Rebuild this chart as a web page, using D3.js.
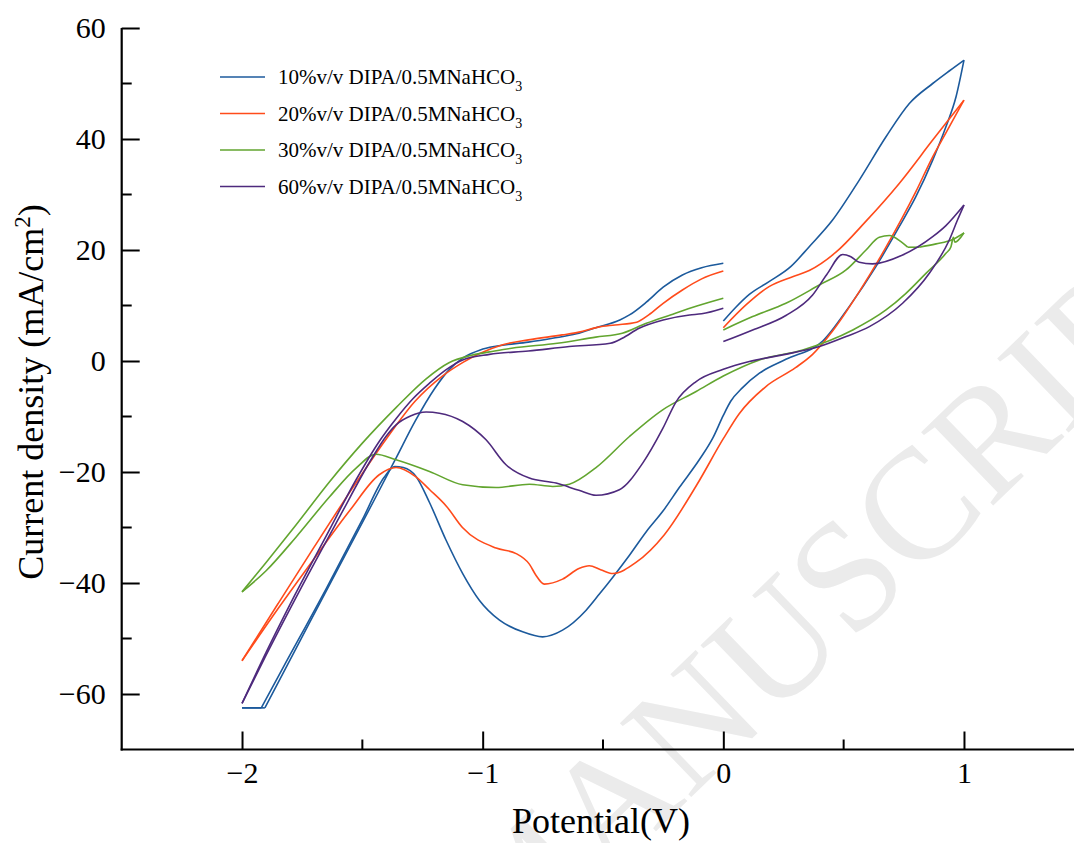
<!DOCTYPE html>
<html>
<head>
<meta charset="utf-8">
<script src="https://cdn.jsdelivr.net/npm/d3@7"></script>
<style>
  body { margin: 0; background: #fff; }
  text { font-family: "Liberation Serif", "Times New Roman", serif; }
</style>
</head>
<body>
<div id="chart"></div>
<script>
// CV scans, [potential V, current density mA/cm2], in scan order:
// start at 0 V, up to 1 V, back down to -2 V, then up to 0 V again
var dipa10 = [
  [0, 7.2], [0.05, 9.6], [0.108, 12.0], [0.19, 14.3], [0.28, 17.0], [0.357, 20.6], [0.454, 25.4],
  [0.565, 32.6], [0.676, 40.4], [0.773, 46.4], [0.87, 50.0], [0.94, 52.3], [1.0, 54.2],
  [0.967, 47.6], [0.925, 42.2], [0.87, 36.2], [0.8, 29.6], [0.731, 24.2], [0.634, 17.0], [0.523, 9.8],
  [0.413, 3.6], [0.26, 0.3], [0.15, -2.2], [0.08, -4.8], [0.03, -7.3], [0, -9.8], [-0.044, -13.9],
  [-0.1, -17.8], [-0.183, -22.8], [-0.25, -27], [-0.321, -30.8], [-0.39, -35], [-0.46, -39],
  [-0.515, -42], [-0.57, -44.9], [-0.668, -48.5], [-0.751, -49.7], [-0.834, -48.8], [-0.93, -46.7],
  [-1.014, -43.1], [-1.083, -38.3], [-1.152, -32.3], [-1.221, -25.5], [-1.277, -20.8], [-1.33, -19.2],
  [-1.365, -19.0], [-1.41, -21.0], [-1.5, -28.6], [-1.65, -41.0], [-1.83, -55.3], [-1.92, -62.5],
  [-2.0, -62.5],
  [-1.905, -62.5], [-1.79, -53.0], [-1.6, -37.3], [-1.45, -25.0], [-1.36, -17.5], [-1.28, -10.8],
  [-1.2, -5.0], [-1.14, -1.6], [-1.08, 0.6], [-1.01, 2.0], [-0.94, 2.7], [-0.81, 3.4], [-0.71, 4.1],
  [-0.61, 4.9], [-0.53, 6.0], [-0.43, 7.4], [-0.39, 8.3], [-0.32, 10.6], [-0.25, 13.3],
  [-0.17, 15.5], [-0.09, 16.8], [0, 17.6]
];

var dipa20 = [
  [0, 6.0], [0.094, 10.1], [0.19, 13.4], [0.288, 15.2], [0.357, 16.3], [0.468, 19.6], [0.593, 25.2],
  [0.731, 32.0], [0.87, 39.8], [1.0, 47.0],
  [0.925, 41.1], [0.87, 36.8], [0.8, 30.5], [0.676, 20.5], [0.565, 12.5], [0.454, 5.4], [0.371, 1.2],
  [0.3, -1.2], [0.177, -4.6], [0.066, -9.5], [0, -14.0], [-0.11, -22.3], [-0.245, -31.3],
  [-0.363, -36.3], [-0.46, -38.3], [-0.51, -37.6], [-0.557, -36.9], [-0.6, -37.4], [-0.668, -39.3],
  [-0.744, -40.2], [-0.78, -38.5], [-0.806, -36.6], [-0.861, -34.7], [-0.944, -33.7], [-1.084, -30.0],
  [-1.15, -26.2], [-1.22, -23.2], [-1.28, -20.8], [-1.36, -19.2], [-1.43, -20.5], [-1.55, -26.8],
  [-1.7, -35.6], [-1.85, -44.6], [-2.0, -54.0],
  [-1.85, -43.7], [-1.7, -33.5], [-1.55, -23.5], [-1.4, -14.0], [-1.28, -7.2], [-1.17, -2.8],
  [-1.08, -0.2], [-1.01, 1.4], [-0.92, 2.9], [-0.81, 3.8], [-0.67, 4.7], [-0.6, 5.2], [-0.52, 6.1],
  [-0.45, 6.5], [-0.36, 7.0], [-0.31, 8.3], [-0.25, 10.4], [-0.17, 12.8], [-0.09, 14.8], [0, 16.2]
];

var dipa30 = [
  [0, 5.6], [0.122, 8.0], [0.26, 10.4], [0.399, 13.7], [0.51, 16.4], [0.593, 20.0], [0.648, 22.3],
  [0.69, 22.6], [0.738, 21.5], [0.766, 20.5], [0.814, 20.5], [0.884, 21.1], [0.953, 21.9], [1.0, 23.1],
  [0.962, 21.4], [0.956, 22.3], [0.946, 20.6], [0.925, 19.4], [0.842, 15.8], [0.759, 12.2],
  [0.676, 9.2], [0.538, 5.6], [0.33, 2.0], [0.15, 0.2], [0, -2.7], [-0.113, -5.5], [-0.252, -8.8],
  [-0.39, -13.6], [-0.529, -19.2], [-0.64, -22.2], [-0.709, -22.6], [-0.806, -22.2], [-0.944, -22.8],
  [-1.083, -22.3], [-1.221, -19.9], [-1.36, -17.8], [-1.443, -16.8], [-1.526, -19.3], [-1.637, -24.5],
  [-1.775, -31.7], [-1.9, -37.8], [-2.0, -41.6],
  [-1.9, -36.3], [-1.775, -29.5], [-1.637, -21.8], [-1.5, -14.8], [-1.36, -8.4], [-1.235, -3.2],
  [-1.14, -0.3], [-1.05, 1.0], [-0.95, 1.8], [-0.88, 2.3], [-0.69, 3.2], [-0.53, 4.3], [-0.42, 5.0],
  [-0.32, 6.8], [-0.22, 8.3], [-0.11, 9.9], [0, 11.3]
];

var dipa60 = [
  [0, 3.5], [0.122, 5.6], [0.26, 8.2], [0.371, 11.9], [0.43, 15.6], [0.496, 19.2], [0.53, 18.8],
  [0.565, 17.8], [0.62, 17.5], [0.745, 19.1], [0.87, 22.4], [0.925, 24.4], [1.0, 28.1],
  [0.973, 25.4], [0.939, 21.8], [0.856, 15.8], [0.745, 10.4], [0.607, 6.2], [0.51, 4.4], [0.399, 2.6],
  [0.246, 1.1], [0.108, -0.1], [0, -1.5], [-0.113, -3.7], [-0.197, -7.4], [-0.252, -12.2],
  [-0.335, -18.4], [-0.432, -23.2], [-0.529, -24.2], [-0.6, -23.3], [-0.695, -22.0], [-0.806, -21.1],
  [-0.903, -18.7], [-0.986, -14.2], [-1.083, -10.9], [-1.18, -9.4], [-1.235, -9.2], [-1.3, -9.9],
  [-1.36, -11.5], [-1.402, -13.6], [-1.464, -17.8], [-1.6, -28.5], [-1.75, -40.5], [-1.9, -53.0],
  [-2.0, -61.7],
  [-1.9, -52.5], [-1.8, -43.8], [-1.65, -31.5], [-1.526, -21.4], [-1.43, -14.5], [-1.36, -10.4],
  [-1.29, -6.8], [-1.221, -4.0], [-1.15, -1.5], [-1.083, 0.2], [-0.972, 1.2], [-0.81, 1.8],
  [-0.64, 2.6], [-0.47, 3.2], [-0.42, 4.1], [-0.35, 5.9], [-0.25, 7.4], [-0.14, 8.3], [-0.09, 8.5],
  [0, 9.5]
];

var seriesLabels = ["10%v/v DIPA/0.5MNaHCO", "20%v/v DIPA/0.5MNaHCO", "30%v/v DIPA/0.5MNaHCO", "60%v/v DIPA/0.5MNaHCO"];
var seriesColors = ["#1c5a9c", "#ff4b1b", "#62a52f", "#4e2a7d"];
var seriesData = [dipa10, dipa20, dipa30, dipa60];

var xMajorTicks = [-2, -1, 0, 1];
var xMinorTicks = [-1.5, -0.5, 0.5];
var yMajorTicks = [-60, -40, -20, 0, 20, 40, 60];
var yMinorTicks = [-50, -30, -10, 10, 30, 50];

var width = 1074,
    height = 843;

var svg = d3.select("#chart").append("svg")
    .attr("width", width)
    .attr("height", height);

var x = d3.scaleLinear().domain([-2.5, 1.5]).range([121.7, 1084.3]);
var y = d3.scaleLinear().domain([-70, 60]).range([749.5, 28]);

// faint watermark behind everything
svg.append("text")
    .attr("transform", "translate(506,976) rotate(-44)")
    .attr("font-size", 157)
    .attr("fill", "#ebebeb")
    .text("MANUSCRIPT");

// split each scan where the sweep turns, so the corners stay sharp;
// flat (clipped) runs get their own piece too
function pieces(d) {
    var iMax = d3.maxIndex(d, function(p) { return p[0]; });
    var iMin = d3.minIndex(d, function(p) { return p[0]; });
    var out = [];
    [d.slice(0, iMax + 1), d.slice(iMax, iMin + 1), d.slice(iMin)].forEach(function(s) {
        s = s.slice().sort(function(a, b) { return a[0] - b[0]; });
        var cur = [s[0]];
        for (var i = 1; i < s.length; i++) {
            var flat = s[i][1] === s[i - 1][1];
            var wasFlat = cur.length > 1 && cur[cur.length - 1][1] === cur[cur.length - 2][1];
            if (cur.length > 1 && flat !== wasFlat) {
                out.push(cur);
                cur = [s[i - 1]];
            }
            cur.push(s[i]);
        }
        out.push(cur);
    });
    return out;
}

var line = d3.line()
    .x(function(d) { return x(d[0]); })
    .y(function(d) { return y(d[1]); })
    .curve(d3.curveMonotoneX);

var plot = svg.append("g");
seriesData.forEach(function(d, i) {
    plot.selectAll(null)
        .data(pieces(d))
        .enter().append("path")
        .attr("d", line)
        .attr("fill", "none")
        .attr("stroke", seriesColors[i])
        .attr("stroke-width", 1.6)
        .attr("stroke-linejoin", "round");
});

// axes: ticks point inward
var xAxis = svg.append("g")
    .attr("transform", "translate(0," + y(-70) + ")")
    .call(d3.axisBottom(x).tickValues(xMajorTicks).tickSize(-18).tickPadding(12)
        .tickFormat(d3.format("d")));
xAxis.append("g").selectAll("line")
    .data(xMinorTicks)
    .enter().append("line")
    .attr("x1", x).attr("x2", x)
    .attr("y1", 0).attr("y2", -10)
    .attr("stroke", "#000");

var yAxis = svg.append("g")
    .attr("transform", "translate(" + x(-2.5) + ",0)")
    .call(d3.axisLeft(y).tickValues(yMajorTicks).tickSize(-18).tickPadding(16)
        .tickFormat(d3.format("d")));
yAxis.append("g").selectAll("line")
    .data(yMinorTicks)
    .enter().append("line")
    .attr("y1", y).attr("y2", y)
    .attr("x1", 0).attr("x2", 10)
    .attr("stroke", "#000");

[xAxis, yAxis].forEach(function(a) {
    a.select(".domain").attr("stroke-width", 2.2);
    a.selectAll("line").attr("stroke-width", 2);
    a.selectAll(".tick text")
        .attr("font-family", "Liberation Serif")
        .attr("font-size", 30)
        .attr("fill", "#000");
});
xAxis.select(".domain").attr("d", "M" + (x(-2.5) - 1) + ",0H" + width);
yAxis.select(".domain").attr("d", "M0," + y(60) + "V" + (y(-70) + 1));

svg.append("text")
    .attr("x", 601)
    .attr("y", 833)
    .attr("text-anchor", "middle")
    .attr("font-size", 36)
    .text("Potential(V)");

var yTitle = svg.append("text")
    .attr("transform", "translate(43,392) rotate(-90)")
    .attr("text-anchor", "middle")
    .attr("font-size", 36);
yTitle.append("tspan").text("Current density (mA/cm");
yTitle.append("tspan").attr("dy", -13).attr("font-size", 23).text("2");
yTitle.append("tspan").attr("dy", 13).text(")");

// legend
var legend = svg.append("g");
seriesLabels.forEach(function(label, i) {
    var ly = 77 + i * 36.5;
    legend.append("line")
        .attr("x1", 220).attr("x2", 265)
        .attr("y1", ly).attr("y2", ly)
        .attr("stroke", seriesColors[i])
        .attr("stroke-width", 1.6);
    var t = legend.append("text")
        .attr("x", 278)
        .attr("y", ly + 7)
        .attr("font-size", 21);
    t.append("tspan").text(label);
    t.append("tspan").attr("dy", 7).attr("font-size", 14).text("3");
});
</script>
</body>
</html>
